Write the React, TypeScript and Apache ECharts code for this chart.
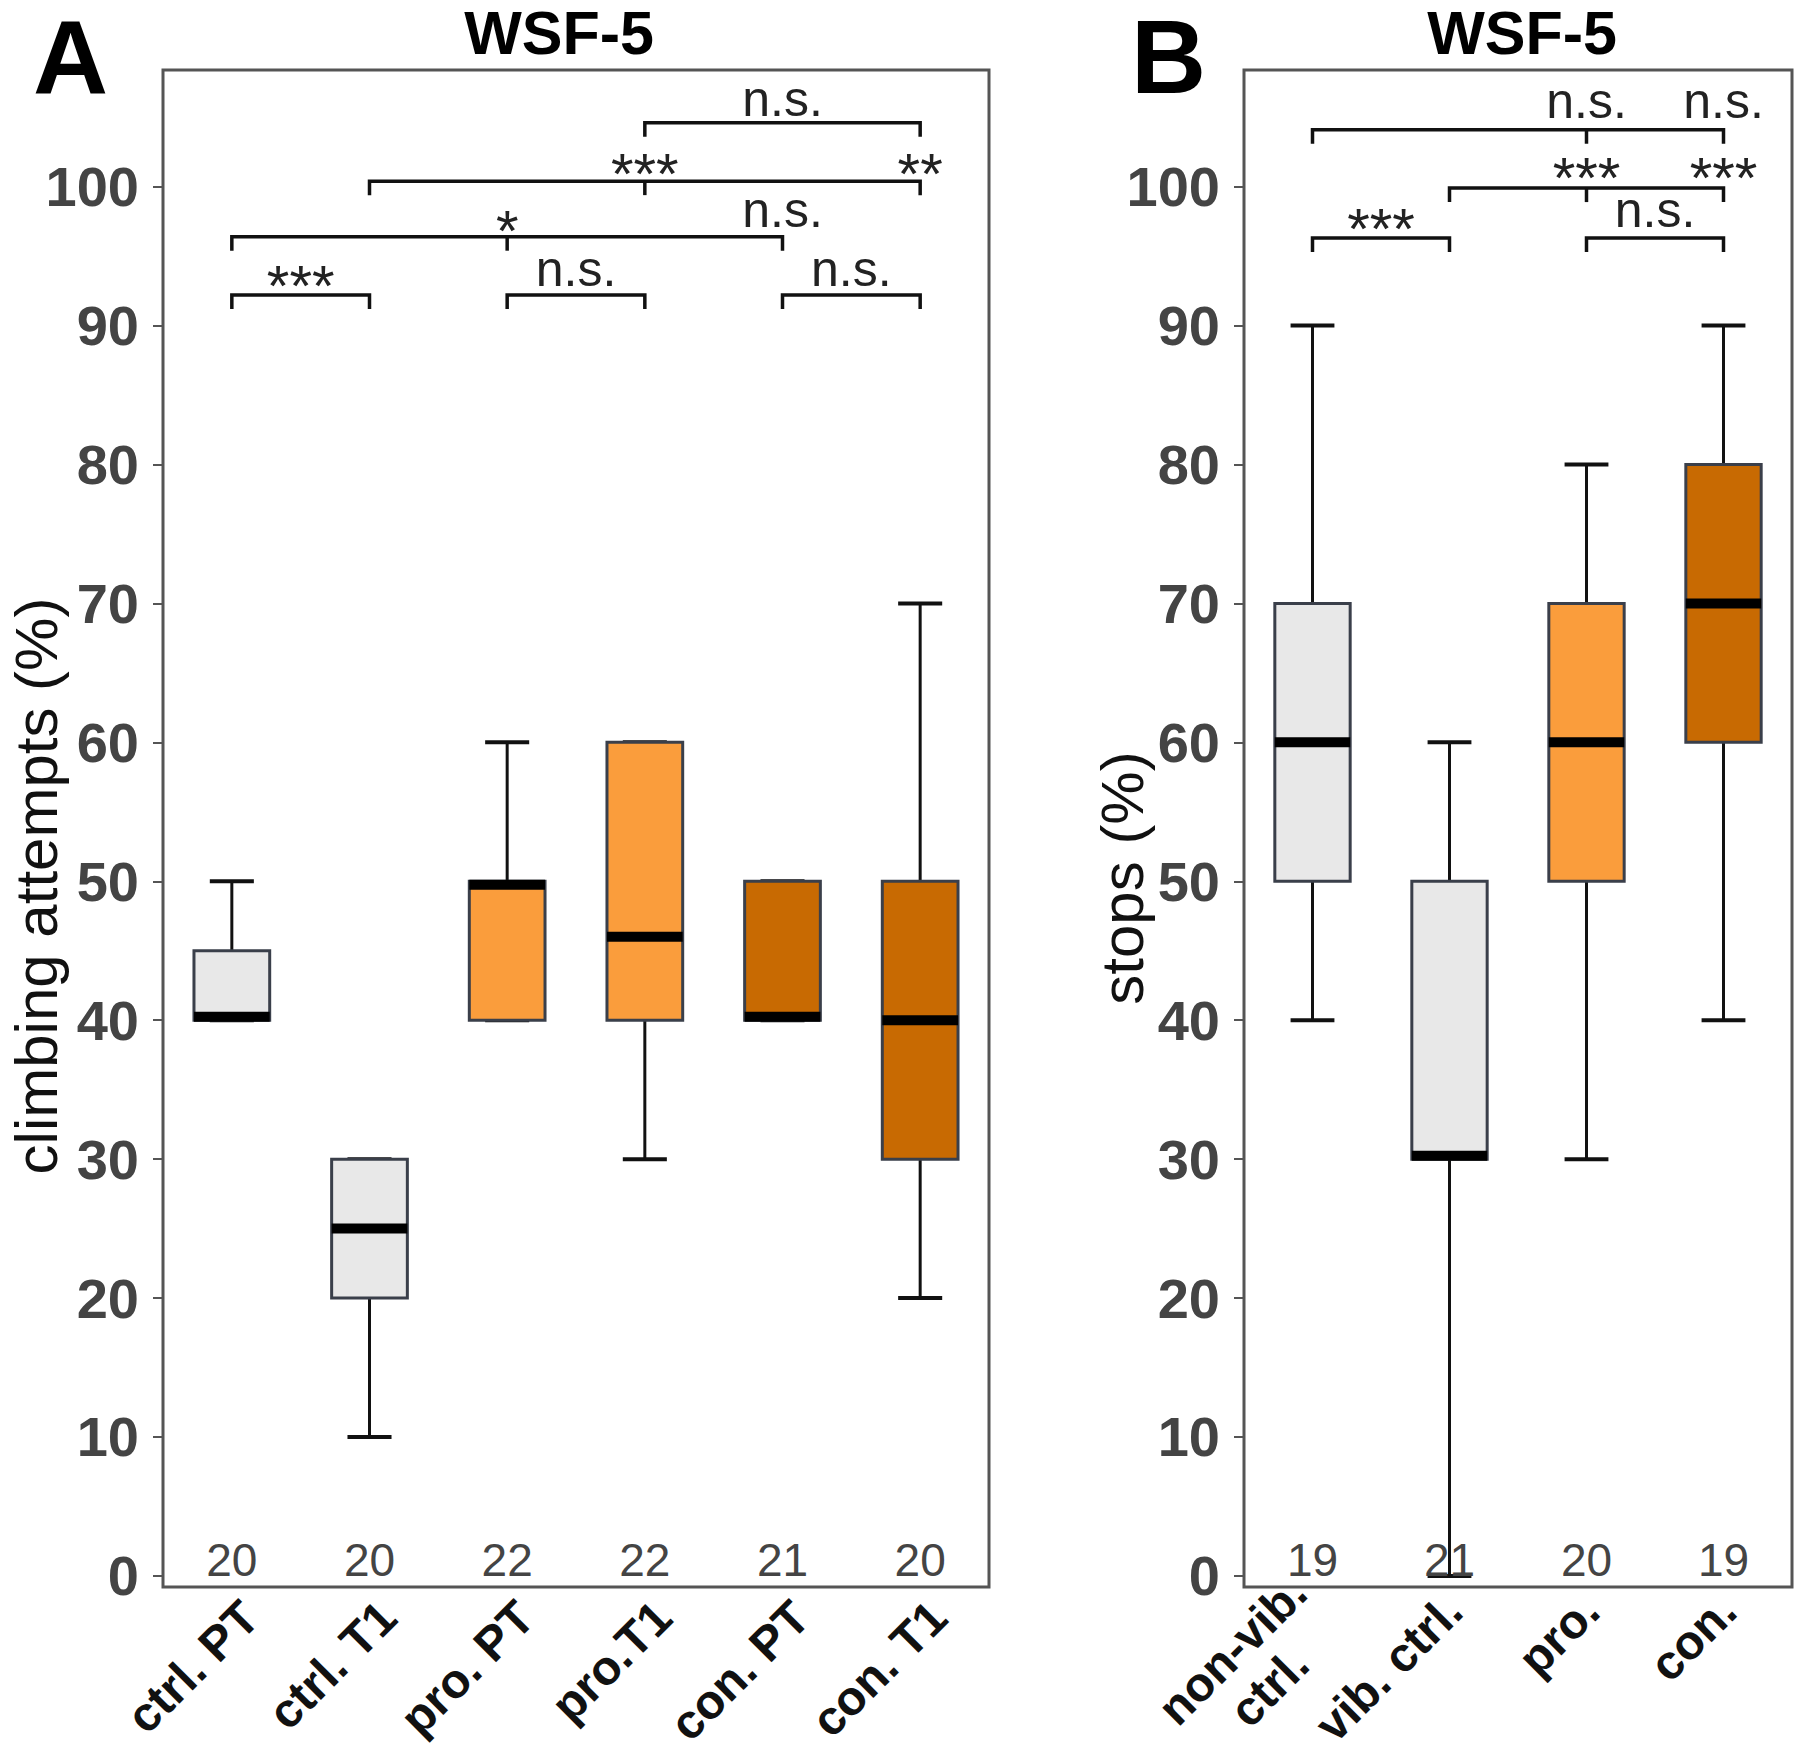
import React, { useEffect, useRef } from 'react';
import * as echarts from 'echarts';

// Panel A: climbing attempts per group, five-number summaries [min, Q1, median, Q3, max]
const attemptGroups = ['ctrl. PT', 'ctrl. T1', 'pro. PT', 'pro.T1', 'con. PT', 'con. T1'];
const attemptStats = [
  [40, 40, 40, 45, 50],
  [10, 20, 25, 30, 30],
  [40, 40, 50, 50, 60],
  [30, 40, 46, 60, 60],
  [40, 40, 40, 50, 50],
  [20, 30, 40, 50, 70],
];
const attemptN = [20, 20, 22, 22, 21, 20];

// Panel B: stops per group
const stopGroups = ['non-vib.\nctrl.', 'vib. ctrl.', 'pro.', 'con.'];
const stopStats = [
  [40, 50, 60, 70, 90],
  [0, 30, 30, 50, 60],
  [30, 50, 60, 70, 80],
  [40, 60, 70, 80, 90],
];
const stopN = [19, 21, 20, 19];

const yTicks = [0, 10, 20, 30, 40, 50, 60, 70, 80, 90, 100];

// significance brackets: [from group, to group, height, middle tick group (-1 = none)]
const attemptBrackets = [
  [0, 1, 92.2, -1],
  [2, 3, 92.2, -1],
  [4, 5, 92.2, -1],
  [0, 4, 96.4, 2],
  [1, 5, 100.4, 3],
  [3, 5, 104.6, -1],
];
const stopBrackets = [
  [0, 1, 96.3, -1],
  [2, 3, 96.3, -1],
  [1, 3, 99.9, 2],
  [0, 3, 104.1, 2],
];

// significance marks: [from group, to group, height, text] (placed midway between the groups)
const attemptMarks = [
  [0, 1, 93.3, '***'],
  [2, 3, 93.5, 'n.s.'],
  [4, 5, 93.5, 'n.s.'],
  [2, 2, 97.3, '*'],
  [4, 4, 97.8, 'n.s.'],
  [3, 3, 101.4, '***'],
  [5, 5, 101.4, '**'],
  [4, 4, 105.8, 'n.s.'],
];
const stopMarks = [
  [0, 1, 97.4, '***'],
  [2, 3, 97.8, 'n.s.'],
  [2, 2, 101.1, '***'],
  [3, 3, 101.1, '***'],
  [2, 2, 105.6, 'n.s.'],
  [3, 3, 105.6, 'n.s.'],
];

const GREY = '#e8e8e8';
const ORANGE = '#fa9d3c';
const DARK_ORANGE = '#c86a02';
const attemptFill = [GREY, GREY, ORANGE, ORANGE, DARK_ORANGE, DARK_ORANGE];
const stopFill = [GREY, GREY, ORANGE, DARK_ORANGE];

const FONT = '"Liberation Sans", Arial, Helvetica, sans-serif';
const Y_MIN = -0.8;
const Y_MAX = 108.4;

function boxRenderer(fills: string[]) {
  return (params: any, api: any) => {
    const i = api.value(0);
    const band = api.size([1, 0])[0];
    const bw = band * 0.55;
    const cw = band * 0.32;
    const cx = api.coord([i, 0])[0];
    const yMin = api.coord([i, api.value(1)])[1];
    const yQ1 = api.coord([i, api.value(2)])[1];
    const yMed = api.coord([i, api.value(3)])[1];
    const yQ3 = api.coord([i, api.value(4)])[1];
    const yMax = api.coord([i, api.value(5)])[1];
    const medW = 10;
    const edge = 1.5;
    // keep the thick median bar inside the box when it sits on a hinge
    const medY = Math.min(Math.max(yMed, yQ3 - edge + medW / 2), yQ1 + edge - medW / 2);
    const whisker = { stroke: '#111', lineWidth: 3 };
    const cap = { stroke: '#111', lineWidth: 4 };
    return {
      type: 'group',
      children: [
        { type: 'line', shape: { x1: cx, y1: yMax, x2: cx, y2: yQ3 }, style: whisker },
        { type: 'line', shape: { x1: cx, y1: yQ1, x2: cx, y2: yMin }, style: whisker },
        { type: 'line', shape: { x1: cx - cw / 2, y1: yMax, x2: cx + cw / 2, y2: yMax }, style: cap },
        { type: 'line', shape: { x1: cx - cw / 2, y1: yMin, x2: cx + cw / 2, y2: yMin }, style: cap },
        {
          type: 'rect',
          shape: { x: cx - bw / 2, y: yQ3, width: bw, height: yQ1 - yQ3 },
          style: { fill: fills[params.dataIndex], stroke: '#3a3f4a', lineWidth: 3 },
        },
        {
          type: 'line',
          shape: { x1: cx - bw / 2, y1: medY, x2: cx + bw / 2, y2: medY },
          style: { stroke: '#000', lineWidth: medW },
        },
      ],
    };
  };
}

function bracketRenderer(params: any, api: any) {
  const h = api.value(2);
  const p1 = api.coord([api.value(0), h]);
  const p2 = api.coord([api.value(1), h]);
  const mid = api.value(3);
  const tick = 14;
  const style = { stroke: '#111', lineWidth: 3.5, fill: null };
  const children: any[] = [
    {
      type: 'polyline',
      shape: { points: [[p1[0], p1[1] + tick], [p1[0], p1[1]], [p2[0], p2[1]], [p2[0], p2[1] + tick]] },
      style,
    },
  ];
  if (mid >= 0) {
    const pm = api.coord([mid, h]);
    children.push({ type: 'line', shape: { x1: pm[0], y1: pm[1], x2: pm[0], y2: pm[1] + tick }, style });
  }
  return { type: 'group', children };
}

function markRenderer(params: any, api: any) {
  const h = api.value(2);
  const p1 = api.coord([api.value(0), h]);
  const p2 = api.coord([api.value(1), h]);
  const text = String(api.value(3));
  const star = text.startsWith('*');
  const fs = star ? 58 : 50;
  const dy = star ? 0.1 * fs : -0.15 * fs;
  return {
    type: 'text',
    x: (p1[0] + p2[0]) / 2,
    y: p1[1] + dy,
    style: { text, fontSize: fs, fontFamily: FONT, fill: '#222', align: 'center', verticalAlign: 'middle' },
  };
}

function countRenderer(params: any, api: any) {
  const p = api.coord([api.value(0), 0]);
  return {
    type: 'text',
    x: p[0],
    y: p[1] + 7,
    style: {
      text: String(api.value(1)),
      fontSize: 46,
      fontFamily: FONT,
      fill: '#444',
      align: 'center',
      verticalAlign: 'bottom',
    },
  };
}

function yAxisFor(gridIndex: number) {
  return {
    type: 'value',
    gridIndex,
    min: Y_MIN,
    max: Y_MAX,
    axisLine: { show: false },
    splitLine: { show: false },
    axisTick: { show: true, length: 10, customValues: yTicks, lineStyle: { color: '#555', width: 2 } },
    axisLabel: {
      customValues: yTicks,
      margin: 24,
      fontSize: 56,
      fontWeight: 'bold',
      fontFamily: FONT,
      color: '#444',
    },
  };
}

function xAxisFor(gridIndex: number, data: string[], margin: number, padRight: number, vAlign: string) {
  return {
    type: 'category',
    gridIndex,
    data,
    boundaryGap: true,
    axisLine: { show: false },
    axisTick: { show: false },
    axisLabel: {
      interval: 0,
      rotate: 45,
      margin,
      align: 'right',
      verticalAlign: vAlign,
      padding: [0, padRight, 0, 0],
      formatter: (v: string) => v.split('\n').map((s) => `{c|${s}}`).join('\n'),
      rich: {
        c: {
          align: 'center',
          fontSize: 48,
          lineHeight: 52,
          fontWeight: 'bold',
          fontFamily: FONT,
          color: '#111',
        },
      },
    },
  };
}

export default function App() {
  const ref = useRef<HTMLDivElement>(null);

  useEffect(() => {
    if (!ref.current) return;
    const chart = echarts.init(ref.current, null, { renderer: 'svg' });
    const gridStyle = {
      show: true,
      borderColor: '#555',
      borderWidth: 3,
      backgroundColor: '#fff',
      outerBoundsMode: 'none',
      containLabel: false,
    };
    const heading = (text: string, x: number, y: number, fontSize: number, align: string) => ({
      type: 'text',
      x,
      y,
      style: {
        text,
        fontSize,
        lineHeight: Math.round(fontSize * 0.75),
        fontWeight: 'bold',
        fontFamily: FONT,
        fill: '#000',
        align,
        verticalAlign: 'middle',
      },
    });
    const axisTitle = (text: string, x: number, y: number) => ({
      type: 'text',
      x,
      y,
      rotation: Math.PI / 2,
      style: { text, fontSize: 60, fontFamily: FONT, fill: '#111', align: 'center', verticalAlign: 'middle' },
    });
    chart.setOption({
      animation: false,
      backgroundColor: '#fff',
      grid: [
        { left: 163, top: 70, width: 826, height: 1517, ...gridStyle },
        { left: 1244, top: 70, width: 548, height: 1517, ...gridStyle },
      ],
      xAxis: [xAxisFor(0, attemptGroups, 4, 0, 'top'), xAxisFor(1, stopGroups, 20, -6, 'middle')],
      yAxis: [yAxisFor(0), yAxisFor(1)],
      graphic: [
        heading('A', 33, 57, 104, 'left'),
        heading('B', 1131, 57, 104, 'left'),
        heading('WSF-5', 559, 33, 61, 'center'),
        heading('WSF-5', 1522, 33, 61, 'center'),
        axisTitle('climbing attempts (%)', 36, 886),
        axisTitle('stops (%)', 1122, 878),
      ],
      series: [
        {
          type: 'custom',
          xAxisIndex: 0,
          yAxisIndex: 0,
          renderItem: boxRenderer(attemptFill),
          encode: { x: 0, y: [1, 2, 3, 4, 5] },
          data: attemptStats.map((s, i) => [i, ...s]),
        },
        {
          type: 'custom',
          xAxisIndex: 1,
          yAxisIndex: 1,
          renderItem: boxRenderer(stopFill),
          encode: { x: 0, y: [1, 2, 3, 4, 5] },
          data: stopStats.map((s, i) => [i, ...s]),
        },
        { type: 'custom', xAxisIndex: 0, yAxisIndex: 0, renderItem: bracketRenderer, encode: { x: [0, 1], y: 2 }, data: attemptBrackets },
        { type: 'custom', xAxisIndex: 1, yAxisIndex: 1, renderItem: bracketRenderer, encode: { x: [0, 1], y: 2 }, data: stopBrackets },
        { type: 'custom', xAxisIndex: 0, yAxisIndex: 0, renderItem: markRenderer, encode: { x: [0, 1], y: 2 }, data: attemptMarks },
        { type: 'custom', xAxisIndex: 1, yAxisIndex: 1, renderItem: markRenderer, encode: { x: [0, 1], y: 2 }, data: stopMarks },
        { type: 'custom', xAxisIndex: 0, yAxisIndex: 0, renderItem: countRenderer, encode: { x: 0 }, data: attemptN.map((n, i) => [i, n]) },
        { type: 'custom', xAxisIndex: 1, yAxisIndex: 1, renderItem: countRenderer, encode: { x: 0 }, data: stopN.map((n, i) => [i, n]) },
      ],
    });
    return () => chart.dispose();
  }, []);

  return <div ref={ref} style={{ position: 'absolute', left: 0, top: 0, width: 1800, height: 1754 }} />;
}
